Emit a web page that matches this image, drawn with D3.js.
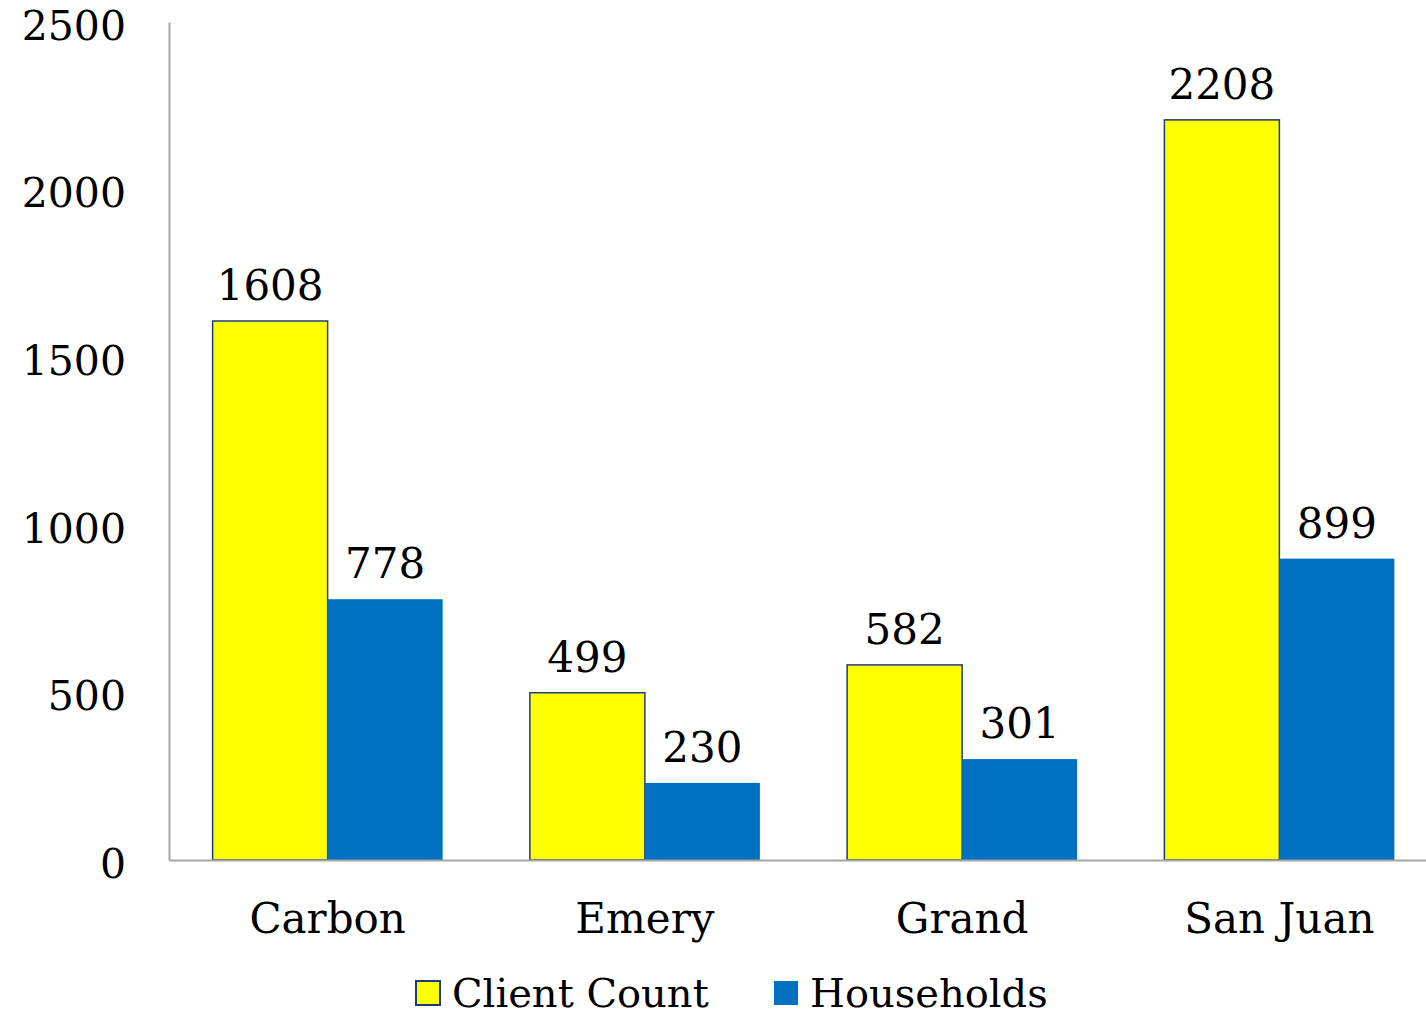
<!DOCTYPE html>
<html>
<head>
<meta charset="utf-8">
<script src="https://cdn.jsdelivr.net/npm/d3@7"></script>
<style>
  body { margin: 0; background: #fff; }
  text { font-family: "DejaVu Serif", Georgia, serif; fill: #000; }
</style>
</head>
<body>
<div id="chart"></div>
<script>
const categories = ["Carbon", "Emery", "Grand", "San Juan"];
const seriesNames = ["Client Count", "Households"];
const clientCount = [1608, 499, 582, 2208];
const households = [778, 230, 301, 899];
const yTicks = [0, 500, 1000, 1500, 2000, 2500];

const width = 1426, height = 1017;
const colors = { "Client Count": "#ffff00", "Households": "#0070c0" };

const svg = d3.select("#chart").append("svg")
    .attr("width", width)
    .attr("height", height);

// escalas
const x0 = d3.scaleBand()
    .domain(categories)
    .range([169, 1438])
    .paddingInner(0.275)
    .paddingOuter(0.1375);

const x1 = d3.scaleBand()
    .domain(seriesNames)
    .range([0, x0.bandwidth()]);

const y = d3.scaleLinear()
    .domain([0, 2500])
    .range([860, 22]);

const rows = categories.map((c, i) => ({
    category: c,
    values: [
        { key: "Client Count", value: clientCount[i] },
        { key: "Households", value: households[i] }
    ]
}));

// eixo Y
const yAxis = svg.append("g")
    .attr("transform", "translate(169,0)")
    .call(d3.axisLeft(y).tickValues(yTicks).tickFormat(d3.format("d")).tickSize(0).tickPadding(43));
yAxis.select(".domain").attr("stroke", "#a6a6a6").attr("stroke-width", 2);
yAxis.selectAll("text")
    .style("font-family", "'DejaVu Serif', Georgia, serif")
    .attr("font-size", 41)
    .attr("fill", "#000")
    .attr("dy", "0.42em");

// barras
const groups = svg.append("g").selectAll("g")
    .data(rows)
    .join("g")
    .attr("transform", d => `translate(${x0(d.category)},0)`);

groups.selectAll("rect")
    .data(d => d.values)
    .join("rect")
    .attr("x", d => x1(d.key))
    .attr("y", d => y(d.value))
    .attr("width", x1.bandwidth())
    .attr("height", d => y(0) - y(d.value))
    .attr("fill", d => colors[d.key])
    .attr("stroke", d => d.key === "Client Count" ? "#1f3a7a" : "none")
    .attr("stroke-width", 1.5);

groups.selectAll("text.val")
    .data(d => d.values)
    .join("text")
    .attr("class", "val")
    .attr("x", d => x1(d.key) + x1.bandwidth() / 2)
    .attr("y", d => y(d.value) - 21)
    .attr("text-anchor", "middle")
    .attr("font-size", 42)
    .text(d => d.value);

// eixo X
const xAxis = svg.append("g")
    .attr("transform", `translate(0,${y(0)})`)
    .call(d3.axisBottom(x0).tickSize(0).tickPadding(43));
xAxis.select(".domain").attr("stroke", "#a6a6a6").attr("stroke-width", 2);
xAxis.selectAll("text")
    .style("font-family", "'DejaVu Serif', Georgia, serif")
    .attr("font-size", 42)
    .attr("fill", "#000");

// legenda
const legendItems = [
    { key: "Client Count", x: 416 },
    { key: "Households", x: 774 }
];
const legend = svg.append("g").selectAll("g")
    .data(legendItems)
    .join("g")
    .attr("transform", d => `translate(${d.x},981)`);

legend.append("rect")
    .attr("width", 24)
    .attr("height", 24)
    .attr("fill", d => colors[d.key])
    .attr("stroke", d => d.key === "Client Count" ? "#1f3a7a" : "none")
    .attr("stroke-width", 2);

legend.append("text")
    .attr("x", 36)
    .attr("y", 12)
    .attr("dy", "0.36em")
    .attr("font-size", 40)
    .text(d => d.key);
</script>
</body>
</html>
